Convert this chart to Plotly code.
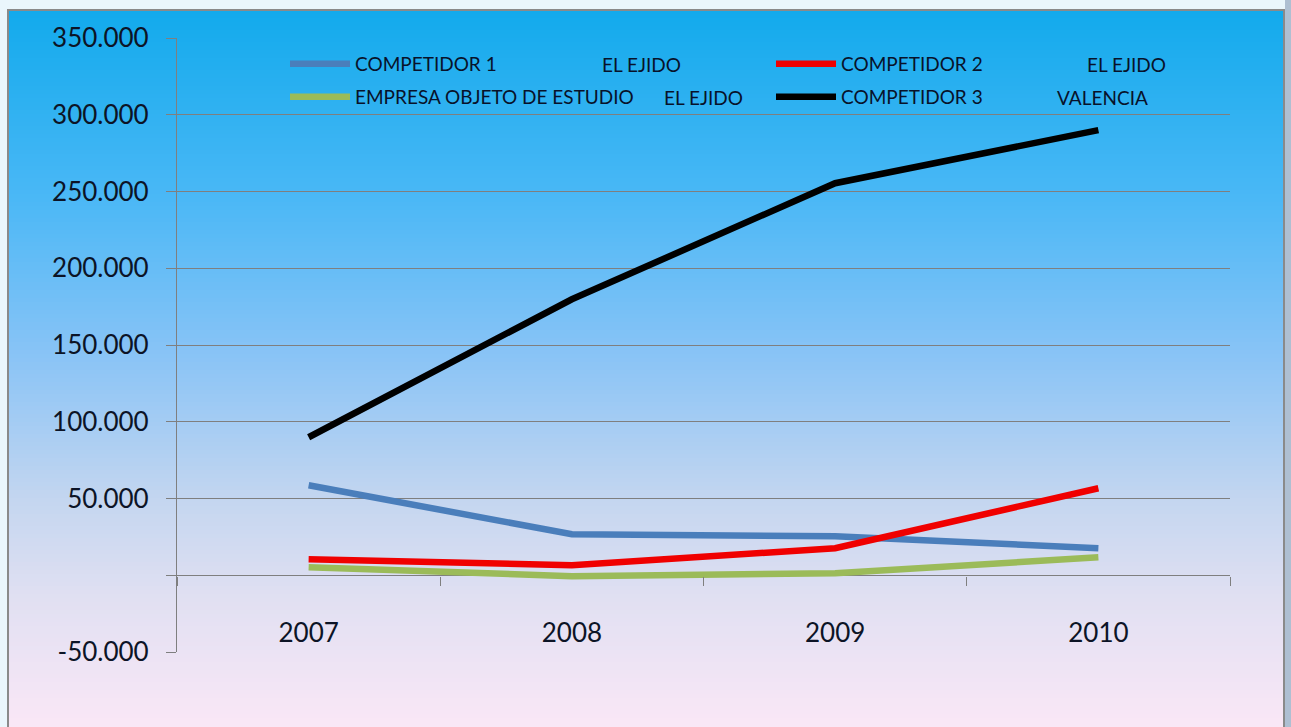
import plotly.graph_objects as go

years = ["2007", "2008", "2009", "2010"]
comp1 = [58600, 26700, 25400, 17600]
comp2 = [10400, 6500, 17600, 56700]
empresa = [5200, -600, 1300, 11700]
comp3 = [89900, 179800, 255400, 290000]

series_names = ["COMPETIDOR 1", "COMPETIDOR 2", "EMPRESA OBJETO DE ESTUDIO", "COMPETIDOR 3"]
series_places = ["EL EJIDO", "EL EJIDO", "EL EJIDO", "VALENCIA"]
series_colors = ["#4A7EBB", "#F00000", "#9BBB59", "#000000"]

y_tickvals = [-50000, 0, 50000, 100000, 150000, 200000, 250000, 300000, 350000]
y_ticktext = ["-50.000", "", "50.000", "100.000", "150.000", "200.000", "250.000", "300.000", "350.000"]

W, H = 1291, 727
L, R, T, B = 177, 1230, 38, 652


def px2x(px):
    return (px - L) / (R - L)


def px2y(py):
    return (B - py) / (B - T)


fig = go.Figure()
data = [comp1, comp2, empresa, comp3]
legends = ["legend", "legend", "legend2", "legend2"]
for name, vals, col, lg in zip(series_names, data, series_colors, legends):
    fig.add_trace(go.Scatter(
        x=years, y=vals, name=name, mode="lines",
        line=dict(color=col, width=6.5, shape="linear"),
        legend=lg,
    ))

# gradient background (decorative)
stops = [
    (10, (18, 170, 236)),
    (200, (75, 184, 246)),
    (350, (135, 195, 246)),
    (500, (196, 214, 240)),
    (600, (225, 224, 242)),
    (727, (250, 231, 246)),
]


def color_at(py):
    for (y0, c0), (y1, c1) in zip(stops[:-1], stops[1:]):
        if y0 <= py <= y1:
            t = (py - y0) / (y1 - y0)
            return "rgb(%d,%d,%d)" % tuple(round(a + (b - a) * t) for a, b in zip(c0, c1))
    return "rgb(%d,%d,%d)" % stops[-1][1]


shapes = []
step = 4
py = 10
while py < 727:
    shapes.append(dict(type="rect", xref="paper", yref="paper", layer="below",
                       x0=px2x(8), x1=px2x(1284), y0=px2y(py), y1=px2y(min(py + step, 727)),
                       fillcolor=color_at(py + step / 2), line=dict(width=0)))
    py += step
shapes.append(dict(type="rect", xref="paper", yref="paper", layer="below",
                   x0=px2x(8), x1=px2x(1284), y0=px2y(10), y1=px2y(729),
                   fillcolor="rgba(0,0,0,0)", line=dict(color="#8A8A8A", width=2)))
shapes.append(dict(type="rect", xref="paper", yref="paper", layer="below",
                   x0=px2x(1285), x1=px2x(1292), y0=px2y(0), y1=px2y(728),
                   fillcolor="#AEBFD2", line=dict(width=0)))

legend_font = dict(family="Lato, sans-serif", size=19, color="#08122A")

annotations = []
place_pos = [(600, 64), (1085, 64), (662, 97), (1055, 97)]
for place, (ax, ay) in zip(series_places, place_pos):
    annotations.append(dict(text=place, xref="paper", yref="paper", x=px2x(ax), y=px2y(ay),
                            xanchor="left", yanchor="middle", showarrow=False, font=legend_font))

fig.update_layout(
    width=W, height=H, autosize=False,
    margin=dict(l=L, r=W - R, t=T, b=H - B),
    paper_bgcolor="#EAF6FC",
    plot_bgcolor="rgba(0,0,0,0)",
    separators=",.",
    shapes=shapes,
    annotations=annotations,
    showlegend=True,
    legend=dict(orientation="h", x=px2x(285), y=px2y(64), xanchor="left", yanchor="middle",
                bgcolor="rgba(0,0,0,0)", font=legend_font, entrywidth=411, entrywidthmode="pixels",
                itemwidth=60, traceorder="normal"),
    legend2=dict(orientation="h", x=px2x(285), y=px2y(97), xanchor="left", yanchor="middle",
                 bgcolor="rgba(0,0,0,0)", font=legend_font, entrywidth=411, entrywidthmode="pixels",
                 itemwidth=60, traceorder="normal"),
    xaxis=dict(
        type="category", range=[-0.5, 3.5], anchor="free", position=px2y(576),
        tickson="boundaries", ticks="outside", ticklen=9, tickcolor="#7F7F7F", tickwidth=1,
        showgrid=False, showline=False, zeroline=False,
        tickfont=dict(family="Lato, sans-serif", size=26, color="#0C1426"),
        ticklabelstandoff=39,
    ),
    yaxis=dict(
        range=[-50000, 350000], tickvals=y_tickvals, ticktext=y_ticktext,
        showgrid=True, gridcolor="#7F7F7F", gridwidth=1.2,
        zeroline=True, zerolinecolor="#7F7F7F", zerolinewidth=1.2,
        showline=True, linecolor="#7F7F7F", linewidth=1.2,
        ticks="outside", ticklen=10, tickcolor="#7F7F7F",
        tickfont=dict(family="Lato, sans-serif", size=26, color="#0C1426"),
        ticklabelstandoff=12,
    ),
)

fig.write_html("out.html")
